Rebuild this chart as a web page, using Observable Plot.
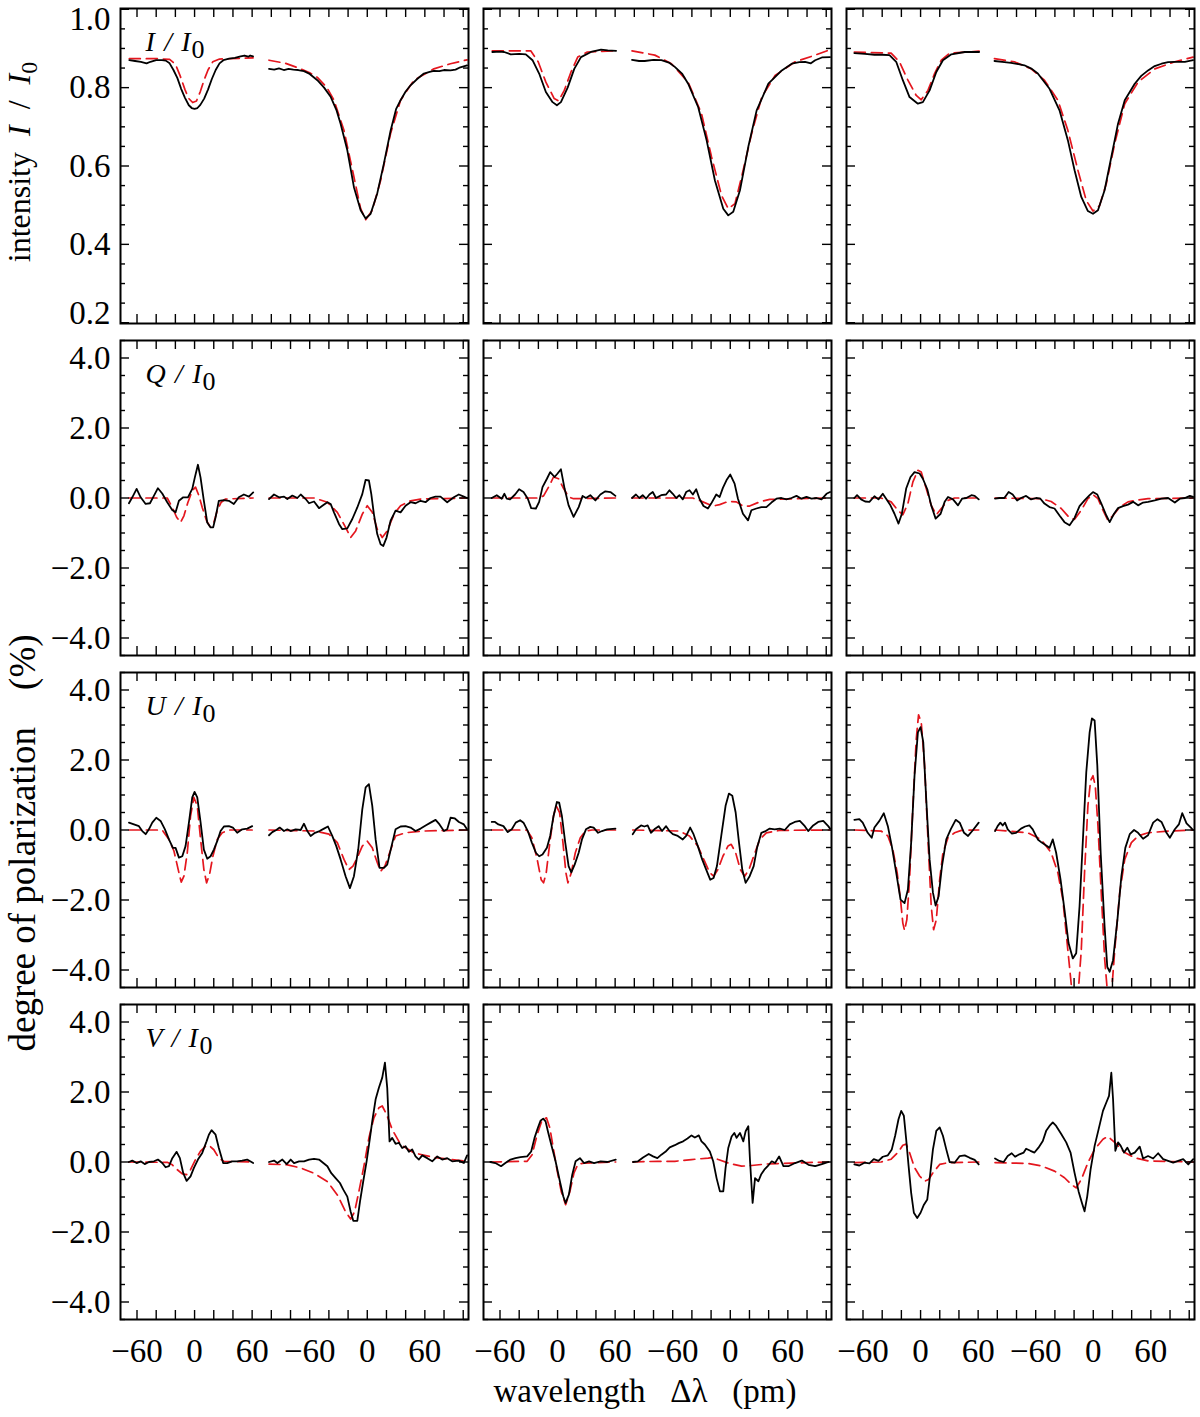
<!DOCTYPE html>
<html><head><meta charset="utf-8">
<script src="https://cdn.jsdelivr.net/npm/d3@7"></script>
<script src="https://cdn.jsdelivr.net/npm/@observablehq/plot@0.6"></script>
<style>
body{margin:0;background:#fff;}
#root{position:relative;width:1200px;height:1417px;font-family:"Liberation Serif",serif;color:#000;overflow:hidden;}
.pnl{position:absolute;}
.ttl{position:absolute;white-space:pre;font-family:"Liberation Serif",serif;line-height:1;color:#000;}
.rot{transform:translate(-50%,-50%) rotate(-90deg);}
.ctr{transform:translate(-50%,-50%);}
</style></head><body><div id="root"></div>
<script>
// ---- tick values / labels ----
const xTickLabelPos = [-60, 0, 60, 120, 180, 240];
const xTickLabels = [-60, 0, 60, -60, 0, 60];
const segShift = 180; // second spectral line drawn to the right of the first
const yMajorI = [0.2, 0.4, 0.6, 0.8, 1.0];
const yMajorP = [-4, -2, 0, 2, 4];
const stokesNames = ["I", "Q", "U", "V"];

// ---- Stokes I / I0 ----
const I_obs_1a = [[-68,0.870],[-62,0.868],[-56,0.866],[-50,0.862],[-46,0.866],[-40,0.870],[-34,0.870],[-30,0.869],[-26,0.862],[-22,0.845],[-18,0.825],[-14,0.797],[-10,0.774],[-6,0.755],[-3,0.748],[0,0.746],[3,0.748],[6,0.756],[10,0.772],[14,0.795],[18,0.822],[22,0.845],[26,0.862],[30,0.870],[36,0.874],[42,0.876],[48,0.880],[52,0.882],[56,0.879],[58,0.882],[61,0.880]];
const I_fit_1a = [[-68,0.874],[-40,0.874],[-26,0.872],[-20,0.860],[-15,0.830],[-10,0.795],[-6,0.772],[-2,0.762],[2,0.766],[6,0.790],[10,0.820],[14,0.845],[19,0.866],[26,0.873],[61,0.876]];
const I_obs_1b = [[-102.4,0.848],[-97,0.846],[-92,0.849],[-87,0.845],[-82,0.848],[-77,0.846],[-72,0.845],[-66,0.842],[-60,0.835],[-52,0.819],[-45,0.800],[-38,0.776],[-32,0.742],[-27.8,0.708],[-20.8,0.640],[-13.9,0.546],[-6.9,0.487],[-1.7,0.466],[3.5,0.478],[10.4,0.530],[17.3,0.606],[24.3,0.690],[30,0.745],[34.7,0.768],[40,0.790],[45.1,0.806],[52,0.822],[59,0.836],[65,0.840],[69.4,0.843],[75,0.842],[80,0.845],[86.7,0.844],[92,0.846],[97,0.852],[104,0.857]];
const I_fit_1b = [[-102.4,0.870],[-85,0.862],[-69.4,0.848],[-60,0.838],[-52,0.826],[-42,0.800],[-34.7,0.768],[-24.3,0.691],[-13.9,0.572],[-6.9,0.491],[-1.7,0.463],[5.2,0.487],[13.9,0.563],[24.3,0.683],[34.7,0.768],[48.6,0.819],[69.4,0.848],[86.7,0.861],[104,0.871]];
const I_obs_2a = [[-68,0.891],[-60,0.892],[-55.7,0.891],[-48.8,0.885],[-40,0.886],[-33.1,0.885],[-26.1,0.870],[-19.2,0.836],[-12.2,0.789],[-5.2,0.763],[-0.7,0.755],[3.5,0.763],[10.5,0.800],[17.4,0.848],[24.4,0.878],[34.8,0.891],[45.3,0.897],[52.3,0.895],[61,0.894]];
const I_fit_2a = [[-68,0.894],[-28,0.894],[-20.2,0.866],[-12.2,0.814],[-3.5,0.772],[1,0.766],[7,0.793],[14,0.840],[21,0.878],[31,0.891],[61,0.894]];
const I_obs_2b = [[-102.4,0.871],[-95,0.868],[-89.2,0.868],[-80,0.871],[-71.8,0.870],[-64,0.864],[-57.8,0.853],[-50,0.835],[-43.9,0.810],[-33.4,0.750],[-24.7,0.666],[-16,0.563],[-7.3,0.491],[-2.1,0.474],[3.1,0.483],[10.1,0.538],[18.8,0.649],[27.5,0.742],[39.7,0.810],[53.7,0.844],[64.1,0.861],[72,0.865],[78,0.866],[84,0.862],[88.5,0.870],[95.5,0.877],[104,0.878]];
const I_fit_2b = [[-102.4,0.894],[-78.7,0.883],[-61.3,0.861],[-43.9,0.814],[-30,0.734],[-19.5,0.623],[-9.1,0.525],[-2.1,0.491],[4.9,0.504],[11.8,0.572],[22.3,0.683],[32.8,0.776],[46.7,0.831],[67.6,0.866],[88.5,0.883],[104,0.897]];
const I_obs_3a = [[-69,0.888],[-58,0.886],[-48,0.884],[-40,0.884],[-32.4,0.883],[-25.4,0.866],[-18.5,0.819],[-11.5,0.776],[-2.8,0.759],[2.4,0.763],[9.4,0.793],[16.4,0.840],[23.3,0.870],[32.1,0.885],[46,0.891],[61,0.891]];
const I_fit_3a = [[-69,0.891],[-30.7,0.888],[-22,0.866],[-13.2,0.819],[-4.5,0.780],[0.7,0.769],[7.7,0.793],[14.6,0.836],[21.6,0.870],[30.3,0.888],[61,0.893]];
const I_obs_3b = [[-103,0.868],[-95,0.866],[-85.7,0.863],[-78,0.860],[-71.8,0.857],[-64,0.848],[-57.8,0.836],[-45.6,0.797],[-35.2,0.742],[-26.5,0.666],[-19.5,0.589],[-12.5,0.521],[-5.6,0.485],[-0.3,0.478],[4.9,0.487],[11.8,0.538],[18.8,0.623],[25.8,0.708],[32.8,0.768],[43.2,0.810],[50,0.830],[57.1,0.844],[64,0.855],[71.1,0.861],[78,0.865],[85,0.866],[95.5,0.866],[104,0.870]];
const I_fit_3b = [[-103,0.874],[-82.2,0.866],[-64.8,0.848],[-50.9,0.819],[-36.9,0.768],[-26.5,0.691],[-16,0.589],[-7.3,0.512],[-0.3,0.485],[6.6,0.499],[13.6,0.555],[22.3,0.657],[32.8,0.759],[46.7,0.814],[64.1,0.848],[85,0.866],[104,0.878]];

// ---- Stokes Q / I0 (%) ----
const Q_obs_1a = [[-68.4,-0.15],[-64.9,0.02],[-60.4,0.26],[-56.2,0.02],[-51,-0.17],[-46.5,-0.15],[-42.3,0.07],[-38.2,0.28],[-33.7,0.13],[-28.5,-0.12],[-23.3,-0.34],[-19.8,-0.41],[-16.3,-0.08],[-11.8,0.02],[-6.9,0.02],[-2.4,0.26],[0.3,0.59],[3.5,0.95],[6.2,0.59],[9.7,-0.08],[13.2,-0.70],[16.7,-0.84],[19.4,-0.84],[21.9,-0.55],[25.3,-0.08],[30.5,-0.06],[35.7,-0.08],[40.9,-0.17],[46.1,0.02],[51.4,0.10],[56.6,0.04],[61.1,0.16]];
const Q_fit_1a = [[-68.4,0],[-28.5,0],[-23.2,-0.27],[-18.7,-0.55],[-14.6,-0.70],[-11.1,-0.51],[-6.9,-0.12],[-2.4,0.21],[1,0.31],[4.5,0.07],[8,-0.27],[12.5,-0.65],[16,-0.81],[20.1,-0.70],[23.6,-0.36],[27.8,-0.12],[32.3,-0.03],[61,0]];
const Q_obs_1b = [[-102.4,-0.03],[-97.2,0.10],[-92,0.02],[-86.7,0.04],[-83.3,-0.03],[-78.1,0.07],[-72.9,0],[-69.4,0.10],[-64.2,-0.03],[-60.7,-0.15],[-55.5,-0.10],[-50.3,-0.29],[-46.8,-0.22],[-41.6,-0.12],[-38.2,-0.17],[-34.7,-0.41],[-29.5,-0.74],[-26,-0.89],[-20.8,-0.87],[-15.6,-0.60],[-10.4,-0.27],[-5.2,0.11],[-1.7,0.52],[1.7,0.50],[4.2,0.11],[6.9,-0.46],[10.4,-1.03],[13.9,-1.32],[16.7,-1.37],[20.1,-1.13],[24.3,-0.65],[29.5,-0.36],[34.7,-0.41],[39.9,-0.22],[45.1,-0.12],[50.3,-0.15],[55.5,-0.08],[60.7,-0.12],[65.9,0],[71.1,0.04],[76.3,0.04],[83.3,-0.12],[90.2,0.02],[95.4,0.10],[100.6,0.04],[104,0]];
const Q_fit_1b = [[-102.4,0],[-55.5,0],[-41.6,-0.12],[-31.2,-0.41],[-22.6,-0.84],[-17.3,-1.13],[-12.1,-0.94],[-5.2,-0.46],[0,-0.22],[5.2,-0.41],[10.4,-0.89],[15.6,-1.13],[20.8,-0.94],[27.8,-0.46],[34.7,-0.22],[45.1,-0.08],[55.5,-0.03],[104,0]];
const Q_obs_2a = [[-68.6,0],[-63.4,0.08],[-58.2,-0.02],[-55.4,0.12],[-53,-0.02],[-49.5,-0.04],[-44.3,0.10],[-40.1,0.25],[-35.5,0.17],[-31,-0.02],[-27.5,-0.29],[-22.6,-0.30],[-19.2,-0.11],[-15.7,0.31],[-11.1,0.55],[-7.7,0.74],[-3.1,0.60],[0,0.70],[3.5,0.82],[7.3,0.27],[11.5,-0.21],[16.7,-0.54],[22,-0.26],[26.1,0.06],[29.6,0],[34.1,0.08],[39.4,-0.07],[44.6,0.10],[49.8,0.19],[55.1,0.17],[60.3,0.06]];
const Q_fit_2a = [[-68.6,0],[-19.9,0],[-14.6,0.06],[-9.4,0.31],[-4.2,0.60],[1,0.55],[6.3,0.27],[11.5,0.03],[16.7,-0.02],[60.3,0]];
const Q_obs_2b = [[-102.4,0],[-98.3,0.10],[-94.8,0],[-91.3,0.08],[-87.8,-0.02],[-84.3,0.10],[-80.8,0.17],[-77.4,0],[-72.1,0.08],[-66.9,0.10],[-63.4,0.22],[-59.9,0.12],[-56.4,0],[-53,0.08],[-49.5,-0.04],[-46,0.17],[-42.5,0.22],[-39,0.10],[-35.5,0.25],[-32.1,-0.02],[-27.9,-0.23],[-23.3,-0.30],[-19.9,-0.16],[-14.6,0.10],[-11.1,0.03],[-7.7,0.29],[-3.5,0.53],[0,0.67],[4.5,0.41],[8,-0.02],[13.2,-0.45],[18.5,-0.64],[22,-0.35],[27.2,-0.30],[32.4,-0.26],[37.6,-0.26],[42.9,-0.13],[48.1,-0.02],[53.3,0],[58.5,-0.04],[63.8,0],[69,0.06],[74.2,-0.02],[79.4,0.03],[84.7,-0.02],[89.9,0],[95.1,-0.04],[100.3,0.12],[104,0.17]];
const Q_fit_2b = [[-102.4,0],[-39,0],[-28.6,-0.11],[-18.1,-0.23],[-11.1,-0.19],[-2.4,-0.10],[6.3,-0.11],[13.2,-0.23],[20.2,-0.23],[30.7,-0.11],[41.1,-0.04],[104,0]];
const Q_obs_3a = [[-69,0],[-66.2,0.08],[-62,-0.04],[-57.8,-0.10],[-53.3,-0.11],[-48.1,0.05],[-43.9,-0.04],[-39.4,0.12],[-35.9,-0.02],[-31.4,-0.21],[-27.2,-0.45],[-23,-0.73],[-19.5,-0.45],[-15,0.27],[-10.5,0.60],[-6.3,0.74],[-1,0.70],[2.4,0.55],[7,0.25],[11.1,-0.21],[15.7,-0.59],[20.9,-0.45],[25.1,-0.11],[28.6,0.03],[33.8,-0.04],[39,-0.21],[43.2,-0.02],[47.7,0],[53,0.08],[56.4,0.06],[60.6,-0.04]];
const Q_fit_3a = [[-69,0],[-41.1,0],[-30.7,-0.11],[-23.7,-0.35],[-18.5,-0.48],[-13.2,-0.16],[-8,0.46],[-2.8,0.79],[0.7,0.74],[5.9,0.27],[11.1,-0.21],[16.4,-0.48],[21.6,-0.30],[28.6,-0.07],[35.5,0],[60.6,0]];
const Q_obs_3b = [[-102.4,-0.02],[-97.9,0],[-92.7,0],[-88.2,0.17],[-84,0.10],[-79.4,-0.07],[-75.3,0],[-70,0.06],[-64.8,-0.04],[-59.6,0],[-55.1,-0.02],[-50.9,-0.16],[-45.6,-0.26],[-40.4,-0.30],[-35.2,-0.50],[-30,-0.69],[-24.7,-0.78],[-19.5,-0.57],[-14.3,-0.23],[-9.1,-0.07],[-3.8,0.08],[-0.3,0.17],[4.2,0.10],[8.4,-0.16],[13.6,-0.50],[17.1,-0.69],[21.6,-0.45],[25.8,-0.29],[31,-0.23],[36.2,-0.19],[41.5,-0.11],[46.7,-0.21],[51.9,-0.13],[57.1,-0.11],[64.1,-0.07],[71.1,-0.02],[78,0],[85,-0.13],[90.2,-0.02],[95.5,0],[100.7,0.06],[104,0.03]];
const Q_fit_3b = [[-102.4,0],[-54.4,-0.02],[-43.9,-0.10],[-33.4,-0.30],[-24.7,-0.57],[-19.5,-0.61],[-12.5,-0.35],[-5.6,-0.02],[-0.3,0.10],[4.9,-0.02],[10.1,-0.35],[15.3,-0.64],[20.6,-0.50],[27.5,-0.26],[36.2,-0.11],[43.2,-0.07],[57.1,-0.02],[104,0]];

// ---- Stokes U / I0 (%) ----
const U_obs_1a = [[-68.4,0.21],[-63.2,0.16],[-58,0.11],[-54.5,-0.03],[-51,-0.12],[-47.6,0.02],[-44.1,0.21],[-39.9,0.35],[-35.4,0.26],[-30.9,0.02],[-26.7,-0.27],[-22.6,-0.51],[-19.8,-0.51],[-16.3,-0.79],[-12.8,-0.75],[-9.4,-0.46],[-5.9,0.21],[-2.4,0.93],[0,1.09],[2.8,0.93],[6.3,0.21],[9.7,-0.56],[13.2,-0.82],[16.7,-0.75],[20.1,-0.56],[23.6,-0.32],[27.1,-0.03],[30.6,0.10],[35.8,0.11],[39.9,0.07],[44.4,-0.08],[49.7,0.02],[54.9,0.04],[60.1,0.11]];
const U_fit_1a = [[-68,0],[-33.7,0],[-26.7,-0.27],[-21.5,-0.60],[-16.3,-1.22],[-13.9,-1.49],[-11.1,-1.32],[-7.6,-0.65],[-4.2,0.40],[-0.7,0.93],[2.8,0.69],[6.3,-0.27],[9.7,-1.13],[12.5,-1.51],[15.6,-1.27],[19.1,-0.75],[23.6,-0.27],[28.8,-0.08],[35.8,0],[60,0]];
const U_obs_1b = [[-102.4,-0.15],[-99,-0.06],[-94.8,0],[-91.3,0.07],[-86.8,-0.03],[-83.3,0.02],[-79.9,-0.03],[-74.7,0.02],[-69.4,0],[-66,0.18],[-62.5,-0.03],[-59,-0.17],[-54.5,-0.08],[-49.7,-0.03],[-45.1,0.04],[-41,0.10],[-36.5,-0.17],[-32.3,-0.46],[-27.8,-0.84],[-22.6,-1.32],[-18.1,-1.66],[-13.9,-1.32],[-9.4,-0.55],[-5.2,0.59],[-1.7,1.22],[1.7,1.31],[5.2,0.69],[8.7,-0.27],[12.8,-1.08],[17.4,-1.08],[20.8,-0.99],[25.3,-0.46],[29.5,0.02],[34.7,0.10],[39.9,0.11],[45.1,0.07],[50.3,-0.03],[55.6,0.04],[60.8,0.13],[66,0.21],[71.2,0.29],[75.3,0.16],[79.9,-0.03],[83.3,0.02],[86.8,0.35],[91.3,0.33],[95.5,0.23],[100.7,0.16],[104,0.02]];
const U_fit_1b = [[-102.4,0],[-53.8,-0.03],[-39.9,-0.12],[-31.2,-0.36],[-24.3,-0.84],[-19.1,-1.13],[-14.9,-1.03],[-10.4,-0.79],[-5.2,-0.46],[0,-0.32],[5.2,-0.51],[10.4,-0.93],[13.9,-1.18],[18.4,-1.03],[23.3,-0.65],[29.5,-0.17],[39.9,-0.08],[57.3,-0.03],[104,0]];
const U_obs_2a = [[-68.6,0.23],[-65.2,0.23],[-61.7,0.16],[-56.4,0.11],[-51.9,-0.06],[-47.7,0.02],[-43.6,0.21],[-39,0.28],[-35.5,0.21],[-31,-0.03],[-26.8,-0.36],[-22.6,-0.65],[-19.2,-0.75],[-15.7,-0.70],[-11.1,-0.51],[-7.7,-0.17],[-4.2,0.40],[-0.7,0.80],[1.7,0.78],[4.5,0.40],[8,-0.36],[11.5,-1.03],[14.3,-1.21],[17.8,-0.99],[22,-0.65],[25.4,-0.27],[29.6,0.02],[34.1,0.09],[37.6,0.07],[42.2,-0.08],[46.3,-0.03],[51.6,0.02],[60.3,0.04]];
const U_fit_2a = [[-68.6,0],[-32.1,0],[-26.8,-0.22],[-21.6,-0.79],[-17.1,-1.42],[-14.6,-1.51],[-11.8,-1.22],[-7.7,-0.27],[-4.2,0.40],[-1.4,0.69],[2.1,0.50],[5.6,-0.36],[8.7,-1.22],[10.8,-1.51],[14.3,-1.22],[18.5,-0.65],[23.7,-0.22],[28.9,-0.03],[35.9,0],[60.3,0]];
const U_obs_2b = [[-101.7,-0.12],[-98.3,0.02],[-93,0.13],[-89.5,0.10],[-86.1,0.13],[-82.6,-0.08],[-79.1,0.02],[-74.6,0.11],[-71.1,-0.03],[-66.9,0.11],[-63.4,-0.03],[-59.9,-0.12],[-54.7,-0.17],[-49.5,-0.27],[-46,-0.17],[-41.8,0.07],[-38.3,-0.12],[-33.8,-0.46],[-29.3,-0.84],[-25.1,-1.13],[-20.9,-1.42],[-17.4,-1.37],[-13.9,-1.03],[-9.4,-0.17],[-4.9,0.69],[-1.4,1.04],[2.1,0.98],[5.6,0.50],[9.1,-0.36],[12.5,-1.13],[16,-1.51],[20.2,-1.32],[24.4,-1.03],[27.9,-0.51],[32.4,-0.08],[36.9,-0.03],[41.1,0.04],[46.3,0.02],[51.6,0.04],[56.8,0],[62,0.16],[67.2,0.23],[72.5,0.26],[77.7,0.11],[81.2,-0.03],[86.4,0.13],[91.6,0.23],[96.9,0.26],[102.1,0.11],[104,0.04]];
const U_fit_2b = [[-101.7,0],[-53,-0.03],[-42.5,-0.17],[-33.8,-0.46],[-26.8,-0.89],[-21.6,-1.21],[-17.4,-1.32],[-12.9,-1.13],[-7.7,-0.75],[-2.4,-0.46],[1,-0.41],[5.6,-0.65],[10.5,-1.13],[15,-1.32],[19.5,-1.13],[24.4,-0.75],[30.7,-0.27],[37.6,-0.08],[51.6,-0.01],[104,0]];
const U_obs_3a = [[-69,0.29],[-63.8,0.31],[-60.3,0.21],[-55.1,-0.08],[-50.9,-0.22],[-48.1,0.07],[-42.9,0.26],[-38.3,0.48],[-34.1,0.11],[-30,-0.46],[-25.4,-1.22],[-20.9,-1.99],[-16.7,-2.09],[-13.2,-1.70],[-9.8,-0.36],[-6.3,1.55],[-2.8,2.79],[0,2.94],[2.8,2.51],[5.9,0.88],[9.4,-0.84],[12.9,-1.79],[15.7,-2.16],[18.8,-1.89],[22.3,-1.03],[26.8,-0.27],[31.4,0.02],[36.6,0.29],[40.8,0.21],[45.3,-0.08],[49.5,-0.17],[54.7,0],[60.6,0.21]];
const U_fit_3a = [[-69,0],[-41.1,-0.03],[-34.1,-0.17],[-28.9,-0.56],[-24.4,-1.22],[-20.9,-1.99],[-18.5,-2.66],[-16.7,-2.87],[-14.3,-2.56],[-11.5,-1.42],[-8,0.69],[-4.5,2.60],[-2.1,3.29],[0.7,3.08],[4.2,1.84],[7.7,-0.27],[11.1,-2.18],[13.6,-2.85],[16.4,-2.56],[19.9,-1.42],[23.3,-0.65],[28.6,-0.22],[35.5,-0.08],[42.5,-0.01],[60.6,0]];
const U_obs_3b = [[-102.4,-0.03],[-99.7,0.11],[-96.9,0.21],[-94.4,0.13],[-92,0.21],[-89.2,0.02],[-85,-0.10],[-80.5,-0.08],[-75.3,0.04],[-71.1,0.10],[-66.6,0.13],[-63.1,0.02],[-57.8,-0.27],[-53.7,-0.36],[-49.1,-0.44],[-45.6,-0.51],[-42.2,-0.27],[-38.7,-0.65],[-34.1,-1.42],[-30,-2.28],[-25.8,-3.23],[-21.3,-3.67],[-17.8,-3.52],[-14.3,-2.18],[-10.8,-0.27],[-7.3,1.65],[-3.8,2.79],[-1.4,3.19],[1.4,3.13],[4.2,1.84],[7.7,-0.65],[11.8,-2.76],[14.6,-3.91],[17.1,-4.05],[20.6,-3.72],[25.1,-2.58],[29.3,-1.32],[33.4,-0.51],[38,-0.12],[42.5,0],[46.7,-0.08],[51.9,-0.25],[57.1,-0.15],[62.4,0.21],[66.9,0.31],[71.1,0.23],[76.3,-0.08],[79.8,-0.22],[85,0.02],[89.2,0.16],[92.7,0.48],[97.2,0.19],[101.7,0.07],[104,0]];
const U_fit_3b = [[-102.4,0],[-68.3,-0.08],[-54.4,-0.27],[-43.9,-0.65],[-36.9,-1.22],[-31.7,-1.99],[-26.5,-3.43],[-23,-4.4],[-19.5,-5.2],[-17.4,-5.0],[-15.3,-4.5],[-12.5,-3.43],[-9.1,-1.22],[-5.6,0.69],[-2.8,1.41],[-0.3,1.55],[2.1,1.26],[4.9,0.11],[8.4,-1.84],[11.8,-3.66],[14.3,-4.48],[17.1,-5.2],[19.5,-4.48],[22.3,-3.46],[27.5,-1.80],[32.8,-0.84],[39.7,-0.36],[46.7,-0.17],[57.1,-0.08],[78,-0.03],[104,0]];

// ---- Stokes V / I0 (%) ----
const V_obs_1a = [[-68.4,0],[-64.9,0.04],[-60.4,-0.03],[-56.2,0.02],[-52,-0.06],[-47.5,0],[-42.3,0.02],[-38.2,0.07],[-33.7,-0.03],[-30.2,-0.15],[-26.7,-0.12],[-23.2,0.11],[-18.7,0.29],[-15.3,0.11],[-11.8,-0.32],[-8.3,-0.54],[-4.2,-0.41],[-0.7,-0.17],[3.5,0.07],[8,0.26],[12.5,0.59],[14.9,0.78],[17.7,0.91],[21.9,0.78],[25.3,0.40],[29.8,-0.03],[34,-0.03],[39.2,0.02],[44.4,0.02],[49.6,0.04],[54.8,0.07],[61.1,-0.03]];
const V_fit_1a = [[-68.4,0],[-28.5,-0.01],[-23.2,-0.08],[-18,-0.22],[-12.8,-0.34],[-8.3,-0.36],[-4.2,-0.22],[1,0.07],[6.2,0.31],[11.5,0.45],[14.9,0.48],[20.1,0.35],[25.3,0.11],[30.5,0.02],[61.1,0]];
const V_obs_1b = [[-102.4,0],[-97.2,0.04],[-93.7,-0.03],[-88.5,0.07],[-84,-0.06],[-79.8,0.07],[-76.3,-0.03],[-71.1,0.02],[-65.9,0.02],[-60.7,0.07],[-55.5,0.09],[-50.3,0.07],[-45.8,-0.03],[-41.6,-0.12],[-37.5,-0.32],[-33,-0.46],[-28.5,-0.60],[-25,-0.79],[-20.8,-0.99],[-17.3,-1.42],[-14.6,-1.68],[-10.4,-1.68],[-7.6,-1.13],[-4.2,-0.55],[-0.7,0.02],[2.8,0.69],[5.2,1.17],[8.7,1.79],[12.1,2.12],[15.6,2.41],[18.4,2.84],[20.8,2.12],[23.2,0.59],[26,0.69],[29.5,0.52],[33,0.55],[36.4,0.40],[39.9,0.45],[43.4,0.29],[46.8,0.36],[50.3,0.16],[53.8,0.07],[57.3,0.19],[62.5,0.11],[67.7,0.02],[72.9,0.16],[78.1,0.07],[83.3,0.11],[88.5,0.02],[95.4,0.04],[100.6,-0.03],[104,0.19]];
const V_fit_1b = [[-102.4,-0.06],[-83.3,-0.08],[-69.4,-0.17],[-55.5,-0.32],[-41.6,-0.56],[-31.2,-0.94],[-22.6,-1.42],[-17.3,-1.63],[-13.2,-1.42],[-8.7,-0.84],[-3.5,-0.12],[1.7,0.69],[6.9,1.26],[12.1,1.55],[15.6,1.60],[20.1,1.36],[26,0.93],[34.7,0.50],[48.6,0.26],[69.4,0.13],[104,0.02]];
const V_obs_2a = [[-70,0],[-64.8,-0.03],[-58.9,-0.12],[-54.4,-0.03],[-49.1,0.07],[-43.9,0.11],[-38.7,0.14],[-31.7,0.16],[-27.5,0.30],[-24,0.69],[-20.6,0.97],[-17.8,1.18],[-15,1.24],[-12.5,1.16],[-10.1,0.88],[-6.6,0.50],[-2.1,0.02],[2.4,-0.55],[5.9,-0.98],[8.4,-1.17],[11.8,-0.93],[15.3,-0.36],[18.8,0.02],[23.3,0.11],[27.5,-0.03],[32.8,0.02],[38,-0.03],[44.9,0.02],[51.9,0],[60.6,0.07]];
const V_fit_2a = [[-70,0],[-31.7,0.02],[-26.5,0.21],[-21.3,0.78],[-16,1.21],[-11.5,1.26],[-8,0.97],[-4.5,0.40],[-0.3,-0.27],[3.8,-0.84],[8.4,-1.22],[12.9,-0.84],[17.1,-0.31],[21.3,-0.06],[27.5,-0.03],[60.6,0]];
const V_obs_2b = [[-101.4,0],[-96.2,0.02],[-90.9,0.13],[-85,0.23],[-80.5,0.16],[-76,0.11],[-71.8,0.21],[-67.6,0.29],[-63.1,0.42],[-57.8,0.48],[-53.7,0.54],[-49.1,0.59],[-44.6,0.67],[-40.4,0.76],[-36.9,0.70],[-32.8,0.76],[-30,0.59],[-26.5,0.50],[-21.3,0.30],[-17.8,0.02],[-14.3,-0.46],[-10.8,-0.84],[-7.3,-0.84],[-4.9,-0.17],[-2.1,0.40],[1.4,0.73],[4.2,0.83],[6.6,0.69],[10.1,0.83],[13.6,0.59],[16,0.88],[18.8,1.02],[20.6,0.02],[23.3,-1.17],[25.8,-0.46],[29.3,-0.55],[32.1,-0.36],[35.5,-0.22],[39,-0.12],[43.2,0.02],[46.7,-0.03],[50.9,0.16],[55.4,-0.12],[60.6,-0.12],[67.6,-0.03],[74.6,0.04],[81.5,-0.08],[88.5,-0.12],[95.5,-0.06],[102.4,0]];
const V_fit_2b = [[-101.4,0],[-75.6,0.02],[-57.8,0.02],[-40.4,0.07],[-23,0.11],[-17.8,0.13],[-12.5,0.07],[-2.1,-0.03],[11.8,-0.12],[22.3,-0.10],[36.2,-0.06],[64.1,-0.03],[102.4,0]];
const V_obs_3a = [[-69,-0.07],[-63.8,-0.10],[-58.5,-0.02],[-53.3,-0.04],[-48.8,0.08],[-43.9,0.03],[-39.4,0.15],[-34.1,0.19],[-30,0.36],[-26.5,0.75],[-23,1.22],[-20.2,1.46],[-17.4,1.32],[-15,0.65],[-12.5,-0.11],[-9.8,-0.88],[-7,-1.45],[-3.5,-1.60],[0,-1.45],[3.5,-1.22],[7,-1.07],[9.4,-0.50],[12.9,0.36],[16.4,0.89],[19.9,0.99],[23.3,0.75],[26.8,0.36],[30.3,0],[35.5,-0.02],[40.8,0.17],[46,0.19],[51.2,0.12],[56.4,0.06],[60.6,-0.07]];
const V_fit_3a = [[-69,-0.02],[-41.1,0],[-30.7,0.08],[-23.7,0.27],[-18.5,0.48],[-15,0.51],[-11.5,0.27],[-6.3,-0.16],[-1,-0.40],[4.2,-0.55],[8.4,-0.50],[12.9,-0.31],[19.9,-0.07],[28.6,-0.02],[60.6,0]];
const V_obs_3b = [[-102.4,0.10],[-97.9,0.03],[-93.4,0],[-89.2,0.17],[-85,0.25],[-81.5,0.15],[-77,0.22],[-72.5,0.27],[-70,0.38],[-65.5,0.32],[-61.3,0.27],[-57.1,0.41],[-52.6,0.60],[-49.1,0.89],[-45.6,1.03],[-42.2,1.13],[-38.7,1.03],[-33.4,0.80],[-28.2,0.56],[-23.7,0.27],[-19.5,-0.31],[-15.3,-0.84],[-11.8,-1.17],[-9.1,-1.41],[-6.3,-0.98],[-2.8,-0.21],[1.4,0.46],[5.6,0.94],[10.1,1.46],[13.6,1.70],[16.4,1.89],[18.8,2.55],[20.6,1.80],[23,0.32],[25.8,0.56],[28.6,0.46],[32.1,0.27],[35.5,0.41],[39,0.22],[43.2,0.27],[48.4,0.44],[51.9,0.10],[57.1,0.17],[62.4,0.10],[67.6,0.25],[72.8,0.08],[78,0.03],[83.3,-0.02],[88.5,0.03],[93.7,0.08],[99,-0.07],[104.2,0.08]];
const V_fit_3b = [[-102.4,-0.02],[-68.3,-0.04],[-54.4,-0.11],[-40.4,-0.26],[-30,-0.45],[-23,-0.64],[-17.8,-0.74],[-12.5,-0.50],[-5.6,-0.02],[1.4,0.36],[10.1,0.65],[15.3,0.73],[22.3,0.56],[32.8,0.27],[43.2,0.12],[57.1,0.03],[104.2,0]];

// ---- panel table (built from the arrays above) ----
const panels = [
  [[I_obs_1a,I_obs_1b,I_fit_1a,I_fit_1b],[I_obs_2a,I_obs_2b,I_fit_2a,I_fit_2b],[I_obs_3a,I_obs_3b,I_fit_3a,I_fit_3b]],
  [[Q_obs_1a,Q_obs_1b,Q_fit_1a,Q_fit_1b],[Q_obs_2a,Q_obs_2b,Q_fit_2a,Q_fit_2b],[Q_obs_3a,Q_obs_3b,Q_fit_3a,Q_fit_3b]],
  [[U_obs_1a,U_obs_1b,U_fit_1a,U_fit_1b],[U_obs_2a,U_obs_2b,U_fit_2a,U_fit_2b],[U_obs_3a,U_obs_3b,U_fit_3a,U_fit_3b]],
  [[V_obs_1a,V_obs_1b,V_fit_1a,V_fit_1b],[V_obs_2a,V_obs_2b,V_fit_2a,V_fit_2b],[V_obs_3a,V_obs_3b,V_fit_3a,V_fit_3b]]
];

// ---- layout ----
const RED = "#e4161e";
const FONT = "'Liberation Serif', 'Times New Roman', serif";
const TICKFS = 33;
const W = 348, H = 315, ML = 95, MR = 12, MT = 12, MB = 62;
const colLeft = [120, 483, 846];
const rowTop = [8, 340, 672, 1004];
const xDomain = [-77.2, 285.5];
const xTicks = d3.range(-60, 281, 20);
const minus = v => (v < 0 ? "\u2212" : "") + Math.abs(v);
const fmtY = v => (v < 0 ? "\u2212" : "") + Math.abs(v).toFixed(1);

const meas = document.createElement("canvas").getContext("2d");
function textWidth(t, font) { meas.font = font; return meas.measureText(t).width; }

function toRows(arr, seg) { return arr.map(([l, v]) => ({u: seg === "b" ? l + segShift : l, v, seg})); }

const root = document.getElementById("root");

function makePanel(r, c) {
  const [oa, ob, fa, fb] = panels[r][c];
  const obs = toRows(oa, "a").concat(toRows(ob, "b"));
  const fit = toRows(fa, "a").concat(toRows(fb, "b"));
  const isI = r === 0;
  const yDomain = isI ? [0.198, 1.002] : [-4.5, 4.5];
  const yMajor = isI ? yMajorI : yMajorP;
  const yMinor = isI ? d3.range(4, 21).filter(i => i % 4).map(i => i * 0.05) : d3.range(-9, 10).filter(i => i % 4).map(i => i * 0.5);
  const tick = {stroke: "black", strokeWidth: 1.4};
  const ax = {tickSize: 0, tickPadding: 10, tickFormat: fmtY, fontSize: TICKFS, label: null};
  const marks = [
    Plot.line(fit, {x: "u", y: "v", z: "seg", stroke: RED, strokeWidth: 1.7, strokeDasharray: "11,6", clip: true}),
    Plot.line(obs, {x: "u", y: "v", z: "seg", stroke: "black", strokeWidth: 1.8, clip: true}),
    Plot.ruleX(xTicks, {...tick, insetTop: H - 9}),
    Plot.ruleX(xTicks, {...tick, insetBottom: H - 9}),
    Plot.ruleY(yMajor, {...tick, insetRight: W - 9}),
    Plot.ruleY(yMajor, {...tick, insetLeft: W - 9}),
    Plot.ruleY(yMinor, {...tick, insetRight: W - 5}),
    Plot.ruleY(yMinor, {...tick, insetLeft: W - 5}),
    Plot.frame({stroke: "black", strokeWidth: 2})
  ];
  if (c === 0) {
    if (isI) {
      marks.push(Plot.axisY([0.4, 0.6, 0.8], ax));
      marks.push(Plot.axisY([1.0], {...ax, dy: 10}));
      marks.push(Plot.axisY([0.2], {...ax, dy: -9}));
    } else {
      marks.push(Plot.axisY(yMajor, ax));
    }
    const main = stokesNames[r] + " \u200a/ \u200aI";
    const fz = 28;
    const wMain = textWidth(main, `italic ${fz}px ${FONT}`);
    marks.push(Plot.text([main], {text: d => d, frameAnchor: "top-left", textAnchor: "start", lineAnchor: "bottom", dx: 25, dy: 42, fontSize: fz, fontStyle: "italic", fill: "black"}));
    marks.push(Plot.text(["0"], {text: d => d, frameAnchor: "top-left", textAnchor: "start", lineAnchor: "bottom", dx: 25 + wMain + 1, dy: 49, fontSize: fz - 2, fill: "black"}));
  }
  if (r === 3) {
    marks.push(Plot.axisX(xTickLabelPos, {tickSize: 0, tickPadding: 19, fontSize: TICKFS, label: null,
      tickFormat: d => minus(xTickLabels[xTickLabelPos.indexOf(d)])}));
  }
  const svg = Plot.plot({
    width: ML + W + MR, height: MT + H + MB,
    marginLeft: ML, marginRight: MR, marginTop: MT, marginBottom: MB,
    x: {domain: xDomain, label: null, ...(r === 3 ? {} : {axis: null})},
    y: {domain: yDomain, label: null, ...(c === 0 ? {} : {axis: null})},
    style: {background: "transparent", overflow: "visible", fontFamily: FONT, fontSize: TICKFS + "px", maxWidth: "none", color: "black"},
    marks
  });
  const div = document.createElement("div");
  div.className = "pnl";
  div.style.left = (colLeft[c] - ML) + "px";
  div.style.top = (rowTop[r] - MT) + "px";
  div.appendChild(svg);
  root.appendChild(div);
}

for (let r = 0; r < 4; r++) for (let c = 0; c < 3; c++) makePanel(r, c);

// ---- axis titles ----
function addTitle(html, x, y, size, cls) {
  const d = document.createElement("div");
  d.className = "ttl " + cls;
  d.style.left = x + "px"; d.style.top = y + "px"; d.style.fontSize = size + "px";
  d.innerHTML = html;
  root.appendChild(d);
}
addTitle('intensity  <i>I</i>  /  <i>I</i><span style="font-size:0.75em;vertical-align:-0.3em">0</span>', 22, 162, 32, "rot");
addTitle('degree of polarization    (%)', 22, 843, 37, "rot");
addTitle('wavelength   \u0394\u03bb   (pm)', 645, 1391, 33, "ctr");
</script></body></html>
